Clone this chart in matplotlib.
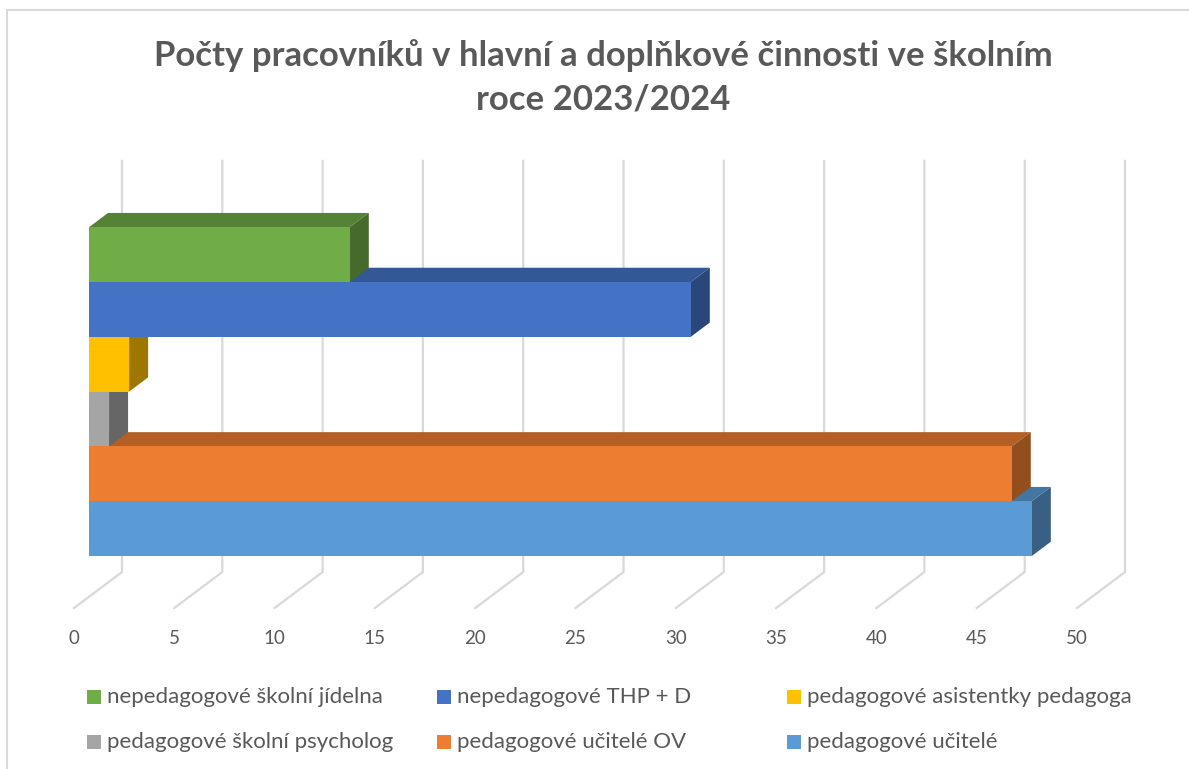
import matplotlib
matplotlib.use("Agg")
import matplotlib.pyplot as plt
from matplotlib.patches import Polygon, Rectangle

plt.rcParams["font.family"] = ["Lato", "DejaVu Sans"]

# ---------------------------------------------------------------------------
# data
# ---------------------------------------------------------------------------
series = [
    "pedagogové učitelé",
    "pedagogové učitelé OV",
    "pedagogové školní psycholog",
    "pedagogové asistentky pedagoga",
    "nepedagogové THP + D",
    "nepedagogové školní jídelna",
]
values = [47, 46, 1, 2, 30, 13]
colors = ["#5B9BD5", "#ED7D31", "#A5A5A5", "#FFC000", "#4472C4", "#70AD47"]
ticks = list(range(0, 51, 5))
title = "Počty pracovníků v hlavní a doplňkové činnosti ve školním\nroce 2023/2024"

# legend is read row by row: top row green/blue/yellow, bottom row gray/orange/light blue
legend_rows = [[5, 4, 3], [2, 1, 0]]

# ---------------------------------------------------------------------------
# geometry of the fake 3D box (x in value units, y in bar heights)
# ---------------------------------------------------------------------------
W, H = 1189, 769
PX_X = 20.06          # pixels per value unit
PX_Y = 54.8           # pixels per bar
X0_PX, Y0_PX = 89, 556   # pixel of value 0 / bottom of first bar (front plane)

DEPTH = (48 / PX_X, 36 / PX_Y)      # full floor depth
FRONT = -0.3125                     # floor front edge, relative to bar plane
BACK = 0.6875                       # back wall
BAR_D = 0.396                       # depth of a bar
FLOOR_Y = -1.244                    # floor at bar plane
TOP_Y = 6.258                       # top of back wall at bar plane
GRID = "#D9D9D9"
TEXT = "#595959"


def shade(c, f):
    r, g, b = matplotlib.colors.to_rgb(c)
    return (r * f, g * f, b * f)


fig = plt.figure(figsize=(W / 100, H / 100), dpi=100)
ax = fig.add_axes([0, 0, 1, 1])
ax.set_xlim(-X0_PX / PX_X, (W - X0_PX) / PX_X)
ax.set_ylim(-0.5 - (H - Y0_PX) / PX_Y, -0.5 + Y0_PX / PX_Y)
ax.axis("off")

# back wall gridlines + floor diagonals
dxb, dyb = BACK * DEPTH[0], BACK * DEPTH[1]
dxf, dyf = FRONT * DEPTH[0], FRONT * DEPTH[1]
for v in ticks:
    ax.plot([v + dxb, v + dxb, v + dxf],
            [TOP_Y + dyb, FLOOR_Y + dyb, FLOOR_Y + dyf],
            color=GRID, lw=1.6, zorder=0, solid_joinstyle="miter")
    ax.text(v + dxf, -0.5 - (638 - Y0_PX) / PX_Y, str(v), ha="center",
            va="center", fontsize=13.5, color=TEXT)

# bars: draw bottom to top so the upper bar hides the lower bar's top face
bd_x, bd_y = BAR_D * DEPTH[0], BAR_D * DEPTH[1]
for i, (val, col) in enumerate(zip(values, colors)):
    y0, y1 = i - 0.5, i + 0.5
    z = 2 + i
    top = Polygon([(0, y1), (val, y1), (val + bd_x, y1 + bd_y), (bd_x, y1 + bd_y)],
                  closed=True, facecolor=shade(col, 0.76), edgecolor="none", zorder=z)
    side = Polygon([(val, y0), (val + bd_x, y0 + bd_y), (val + bd_x, y1 + bd_y), (val, y1)],
                   closed=True, facecolor=shade(col, 0.62), edgecolor="none", zorder=z)
    ax.add_patch(top)
    ax.add_patch(side)
    ax.barh(i, val, height=1.0, color=col, edgecolor="none", zorder=z + 0.5)

# title
fig.text(603 / W, 1 - 77 / H, title, ha="center", va="center", fontsize=25,
         fontweight="bold", color=TEXT, linespacing=1.45)

# legend (manual, three evenly spaced columns)
col_x = [87, 437, 787]
row_y = [697, 742]
for r, row in enumerate(legend_rows):
    for c, idx in enumerate(row):
        fig.patches.append(Rectangle(((col_x[c]) / W, 1 - (row_y[r] + 7) / H),
                                     14 / W, 14 / H, transform=fig.transFigure,
                                     facecolor=colors[idx], edgecolor="none"))
        fig.text((col_x[c] + 20) / W, 1 - row_y[r] / H, series[idx],
                 ha="left", va="center", fontsize=16, color=TEXT)

# chart area border
fig.patches.append(Rectangle((7 / W, -0.02), 1.05, 1 - 10 / H + 0.02,
                             transform=fig.transFigure, fill=False,
                             edgecolor=GRID, lw=1.5))

fig.savefig("out.png", dpi=100)
